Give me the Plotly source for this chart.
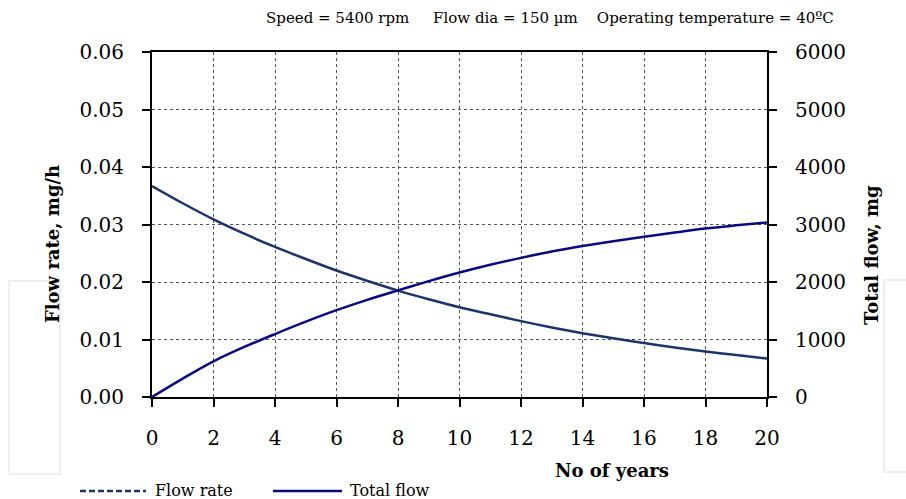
import plotly.graph_objects as go

years = list(range(0, 21))
flow_rate = [0.0367, 0.0337, 0.0309, 0.0284, 0.0261, 0.0240, 0.0220, 0.0202, 0.0185, 0.0170,
             0.0156, 0.0144, 0.0132, 0.0121, 0.0111, 0.0102, 0.0094, 0.0086, 0.0079, 0.0073, 0.0067]
total_flow = [0, 320, 620, 870, 1095, 1310, 1510, 1690, 1855, 2015, 2165, 2300, 2420, 2530,
              2625, 2710, 2785, 2860, 2930, 2985, 3035]
x_ticks = list(range(0, 21, 2))
left_ticks = [0.00, 0.01, 0.02, 0.03, 0.04, 0.05, 0.06]
left_labels = ["0.00", "0.01", "0.02", "0.03", "0.04", "0.05", "0.06"]
right_ticks = [0, 1000, 2000, 3000, 4000, 5000, 6000]

FONT = "DejaVu Serif"
W, H = 906, 499
L, R, T, B = 152, 139, 52, 102

def px(x):
    return (x - L) / (W - L - R)

def py(y):
    return 1 - (y - T) / (H - T - B)

fig = go.Figure()
fig.add_trace(go.Scatter(x=years, y=flow_rate, mode="lines", name="Flow rate",
                         line=dict(color="#1c3468", width=2.5, shape="spline"), showlegend=False))
fig.add_trace(go.Scatter(x=years, y=total_flow, mode="lines", name="Total flow", yaxis="y2",
                         line=dict(color="#0a0a80", width=2.5, shape="spline"), showlegend=False))

axis_font = dict(family=FONT, size=20, color="black")
fig.update_layout(
    width=W, height=H,
    margin=dict(l=L, r=R, t=T, b=B),
    paper_bgcolor="white", plot_bgcolor="white",
    showlegend=False,
    xaxis=dict(range=[0, 20], tickvals=x_ticks, ticks="outside", ticklen=8, tickwidth=1.5,
               tickcolor="black", showline=True, linecolor="black", linewidth=2, mirror=True,
               showgrid=True, gridcolor="#555555", griddash="dot", gridwidth=1,
               tickfont=axis_font, ticklabelstandoff=14, zeroline=False),
    yaxis=dict(range=[0, 0.06], tickvals=left_ticks, ticktext=left_labels, ticks="outside",
               ticklen=8, tickwidth=1.5, tickcolor="black", showline=True, linecolor="black",
               linewidth=2, showgrid=True, gridcolor="#555555", griddash="dot", gridwidth=1,
               tickfont=axis_font, ticklabelstandoff=14, zeroline=False),
    yaxis2=dict(range=[0, 6000], tickvals=right_ticks, overlaying="y", side="right",
                ticks="outside", ticklen=8, tickwidth=1.5, tickcolor="black", showline=True,
                linecolor="black", linewidth=2, showgrid=False, tickfont=axis_font,
                ticklabelstandoff=14, zeroline=False),
)

def note(text, x, y, size, xanchor="center", angle=0, bold=False):
    return dict(text=("<b>%s</b>" % text) if bold else text, x=px(x), y=py(y),
                xref="paper", yref="paper", xanchor=xanchor, yanchor="middle",
                showarrow=False, textangle=angle, font=dict(family=FONT, size=size, color="black"))

ann = [
    note("Speed = 5400 rpm&nbsp;&nbsp;&nbsp;&nbsp;&nbsp;Flow dia = 150 \u00b5m&nbsp;&nbsp;&nbsp;&nbsp;Operating temperature = 40\u00baC",
         550, 18, 15),
    note("Flow rate, mg/h", 52, 244, 18, angle=-90, bold=True),
    note("Total flow, mg", 871, 255, 18, angle=-90, bold=True),
    note("No of years", 612, 470, 18, bold=True),
    note("Flow rate", 153, 490, 16, xanchor="left"),
    note("Total flow", 348, 490, 16, xanchor="left"),
]
fig.update_layout(annotations=ann)

shapes = [
    dict(type="line", xref="paper", yref="paper", x0=px(80), x1=px(146), y0=py(491), y1=py(491),
         line=dict(color="#1c3468", width=2.5, dash="6px,3px")),
    dict(type="line", xref="paper", yref="paper", x0=px(273), x1=px(342), y0=py(491), y1=py(491),
         line=dict(color="#0a0a80", width=2.5)),
    dict(type="rect", xref="paper", yref="paper", x0=px(9), x1=px(60), y0=py(281), y1=py(474),
         line=dict(color="#efefef", width=2), layer="below"),
    dict(type="rect", xref="paper", yref="paper", x0=px(884), x1=px(940), y0=py(280), y1=py(472),
         line=dict(color="#efefef", width=2), layer="below"),
]
fig.update_layout(shapes=shapes)

fig.write_html("out.html", config={"displayModeBar": False},
               post_script="document.body.style.margin='0';document.body.style.overflow='hidden';")
